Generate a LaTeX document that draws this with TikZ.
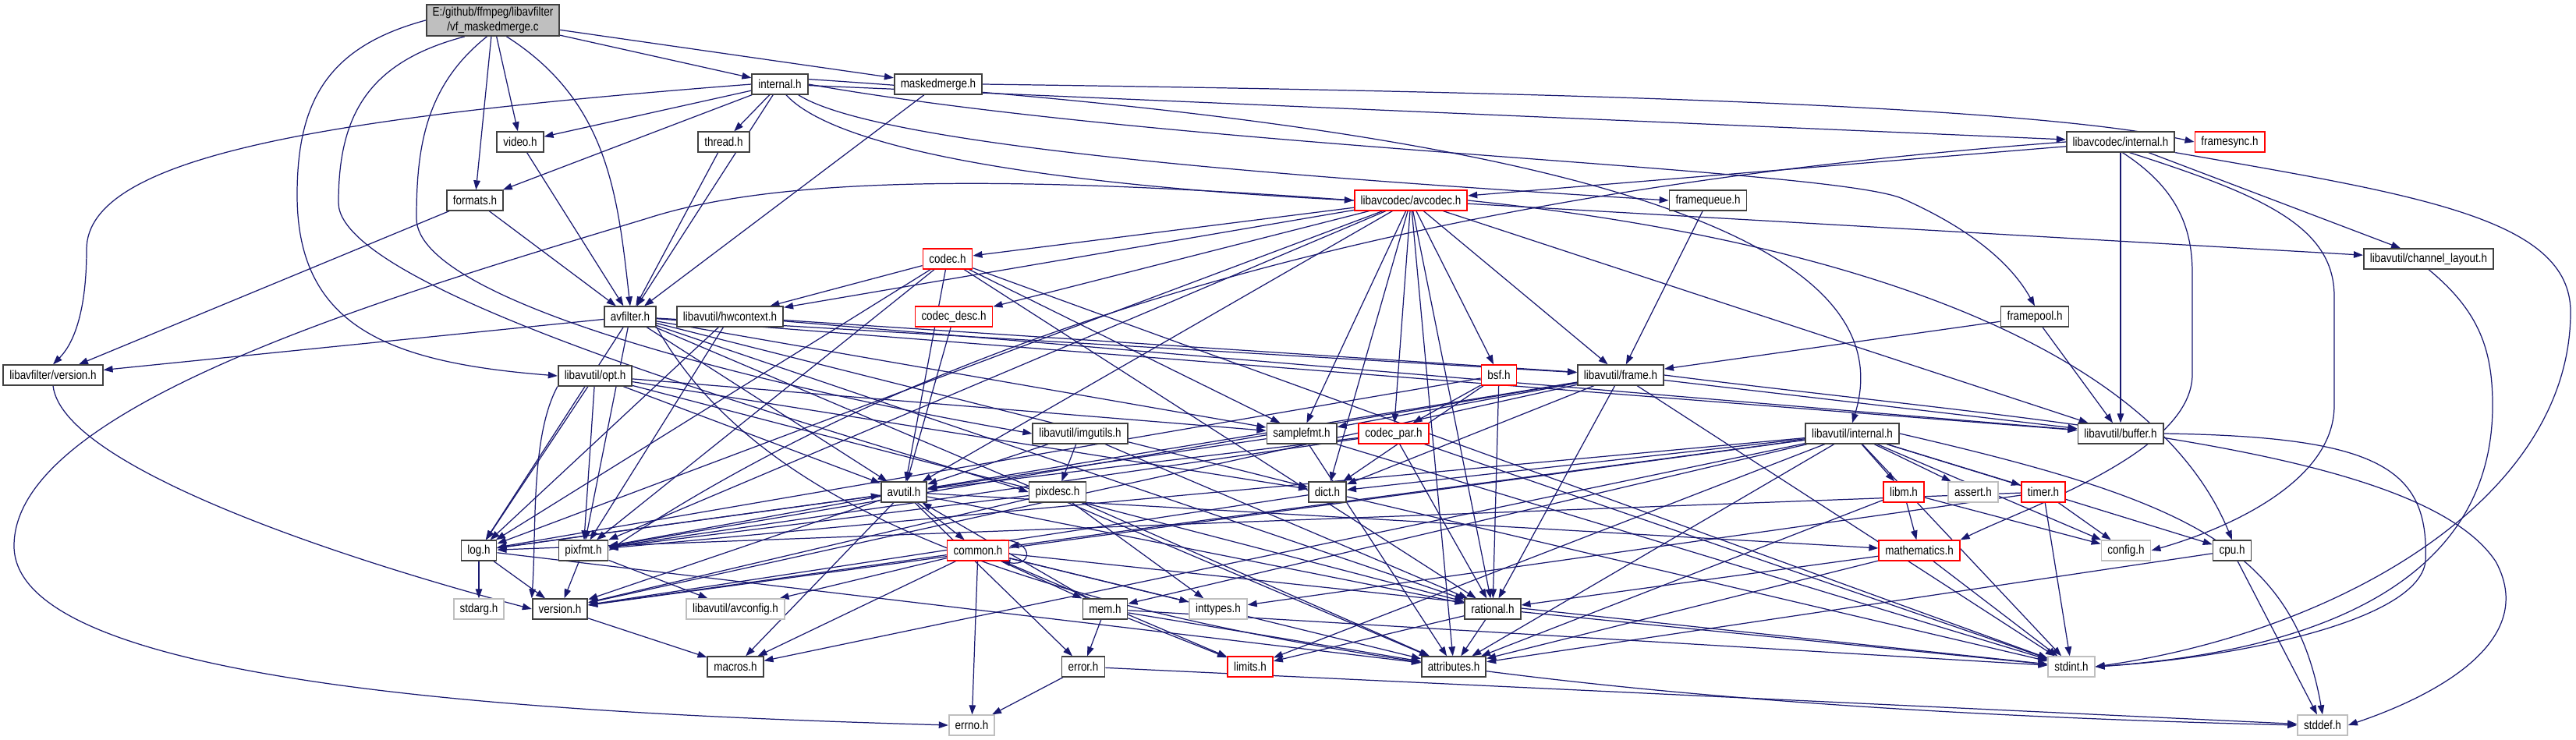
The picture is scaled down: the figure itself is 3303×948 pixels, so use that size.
\documentclass[tikz,border=0pt]{standalone}
\usepackage{fontspec}
\setmainfont{Liberation Sans}[FakeStretch=0.85]
\usetikzlibrary{arrows.meta, backgrounds}
\definecolor{EdgeBlue}{HTML}{191970}
\definecolor{BoxLine}{HTML}{404040}
\definecolor{NoDoc}{HTML}{BFBFBF}
\definecolor{Cut}{HTML}{FF0000}
\definecolor{MainFill}{HTML}{BFBFBF}

\begin{document}
\begin{tikzpicture}[
    x=0.01cm, y=-0.01cm,
    hfile/.style={draw=BoxLine, line width=0.5pt, fill=white, minimum height=0.255cm, inner xsep=0.08cm, inner ysep=0pt, font=\fontsize{4.5}{5}\selectfont},
    hred/.style={hfile, draw=Cut},
    hgray/.style={hfile, draw=NoDoc},
    hmain/.style={hfile, fill=MainFill, align=center, minimum height=0.4cm, font=\fontsize{4.5}{5.2}\selectfont},
    arr/.style={-{Triangle[length=0.12cm, width=0.085cm]}, EdgeBlue, line width=0.35pt}
]
\useasboundingbox (0,0) rectangle (3303,948);

% Source file
\node[hmain] (main) at (632,26) {E:/github/ffmpeg/libavfilter\\/vf\_maskedmerge.c};

% libavfilter headers
\node[hfile] (internal) at (1000,108) {internal.h};
\node[hfile] (maskedmerge) at (1203,108) {maskedmerge.h};
\node[hfile] (video) at (667,182) {video.h};
\node[hfile] (thread) at (928,182) {thread.h};
\node[hfile] (formats) at (609,257) {formats.h};
\node[hfile] (avfilter) at (808,406) {avfilter.h};
\node[hfile] (lavfversion) at (68,481) {libavfilter/version.h};
\node[hred] (framesync) at (2859,182) {framesync.h};
\node[hfile] (framequeue) at (2190,257) {framequeue.h};
\node[hfile] (framepool) at (2609,406) {framepool.h};

% libavcodec headers
\node[hfile] (lavcinternal) at (2719,182) {libavcodec/internal.h};
\node[hred] (avcodec) at (1809,257) {libavcodec/avcodec.h};
\node[hred] (codec) at (1215,332) {codec.h};
\node[hred] (codecdesc) at (1223,406) {codec\_desc.h};
\node[hred] (bsf) at (1922,481) {bsf.h};
\node[hred] (codecpar) at (1787,556) {codec\_par.h};

% libavutil headers
\node[hfile] (channellayout) at (3114,332) {libavutil/channel\_layout.h};
\node[hfile] (hwcontext) at (936,406) {libavutil/hwcontext.h};
\node[hfile] (opt) at (763,482) {libavutil/opt.h};
\node[hfile] (frame) at (2078,481) {libavutil/frame.h};
\node[hfile] (imgutils) at (1385,556) {libavutil/imgutils.h};
\node[hfile] (samplefmt) at (1669,556) {samplefmt.h};
\node[hfile] (lavuinternal) at (2375,556) {libavutil/internal.h};
\node[hfile] (buffer) at (2719,556) {libavutil/buffer.h};
\node[hfile] (avutil) at (1159,631) {avutil.h};
\node[hfile] (pixdesc) at (1356,631) {pixdesc.h};
\node[hfile] (dict) at (1702,631) {dict.h};
\node[hred] (libm) at (2441,631) {libm.h};
\node[hred] (timer) at (2620,631) {timer.h};
\node[hfile] (log) at (614,706) {log.h};
\node[hfile] (pixfmt) at (748,706) {pixfmt.h};
\node[hred] (common) at (1254,706) {common.h};
\node[hred] (mathematics) at (2461,706) {mathematics.h};
\node[hfile] (cpu) at (2862,706) {cpu.h};
\node[hfile] (version) at (718,781) {version.h};
\node[hgray] (avconfig) at (943,781) {libavutil/avconfig.h};
\node[hfile] (mem) at (1417,781) {mem.h};
\node[hfile] (rational) at (1914,781) {rational.h};
\node[hfile] (macros) at (943,855) {macros.h};
\node[hfile] (error) at (1389,855) {error.h};
\node[hred] (limits) at (1603,855) {limits.h};
\node[hfile] (attributes) at (1864,855) {attributes.h};

% system headers
\node[hgray] (assert) at (2530,631) {assert.h};
\node[hgray] (config) at (2726,706) {config.h};
\node[hgray] (stdarg) at (614,781) {stdarg.h};
\node[hgray] (inttypes) at (1562,781) {inttypes.h};
\node[hgray] (stdint) at (2656,855) {stdint.h};
\node[hgray] (errno) at (1246,930) {errno.h};
\node[hgray] (stddef) at (2978,930) {stddef.h};

\begin{scope}[on background layer]
% vf_maskedmerge.c
\draw[arr] (main.west) .. controls (420,60) and (381,130) .. (381,250) .. controls (381,420) and (500,465) .. (opt.west);
\draw[arr] (main.-150) .. controls (470,80) and (434,150) .. (434,260) .. controls (434,380) and (1100,560) .. (pixdesc.west);
\draw[arr] (main.-110) .. controls (545,110) and (534,190) .. (534,280) .. controls (534,390) and (1000,500) .. (imgutils.west);
\draw[arr] (main) -- (formats);
\draw[arr] (main) -- (video);
\draw[arr] (main.-50) .. controls (780,130) and (792,250) .. (avfilter.north);
\draw[arr] (main) -- (internal);
\draw[arr] (main) -- (maskedmerge);

% internal.h
\draw[arr] (internal.west) .. controls (420,150) and (111,200) .. (111,320) .. controls (111,420) and (85,450) .. (lavfversion.north);
\draw[arr] (internal) -- (video);
\draw[arr] (internal) -- (formats);
\draw[arr] (internal) -- (thread);
\draw[arr] (internal) -- (avfilter);
\draw[arr] (internal.-60) .. controls (1080,200) and (1400,240) .. (avcodec.west);
\draw[arr] (internal.-30) .. controls (1130,190) and (1700,230) .. (framequeue.west);
\draw[arr] (internal.east) .. controls (1500,190) and (2350,215) .. (2440,255) .. controls (2530,295) and (2580,340) .. (framepool.north);
\draw[arr] (internal) -- (lavcinternal);
\draw[arr] (internal.10) .. controls (2000,165) and (2450,300) .. (lavuinternal.north);

% maskedmerge.h
\draw[arr] (maskedmerge) -- (avfilter);
\draw[arr] (maskedmerge.east) .. controls (2000,118) and (2600,135) .. (framesync.west);

% video.h, thread.h, formats.h
\draw[arr] (video) -- (avfilter);
\draw[arr] (thread) -- (avfilter);
\draw[arr] (formats) -- (avfilter);
\draw[arr] (formats) -- (lavfversion);

% avfilter.h
\draw[arr] (avfilter) -- (lavfversion);
\draw[arr] (avfilter) -- (attributes);
\draw[arr] (avfilter) -- (avutil);
\draw[arr] (avfilter) -- (buffer);
\draw[arr] (avfilter) -- (dict);
\draw[arr] (avfilter) -- (frame);
\draw[arr] (avfilter) -- (log);
\draw[arr] (avfilter) -- (samplefmt);
\draw[arr] (avfilter) -- (pixfmt);
\draw[arr] (avfilter) -- (rational);
\draw[arr] (avfilter.south east) .. controls (1000,700) and (1500,895) .. (stddef.west);

% libavcodec/internal.h
\draw[arr] (lavcinternal) -- (avcodec);
\draw[arr] (lavcinternal.west) .. controls (2000,230) and (1300,360) .. (pixfmt.east);
\draw[arr] (lavcinternal) -- (buffer);
\draw[arr] (lavcinternal.-80) .. controls (2790,240) and (2811,290) .. (2811,350) -- (2811,480) .. controls (2811,580) and (2600,650) .. (mathematics.north east);
\draw[arr] (lavcinternal.-50) .. controls (2900,250) and (2993,290) .. (2993,380) -- (2993,520) .. controls (2993,620) and (2850,680) .. (config.east);
\draw[arr] (lavcinternal) -- (channellayout);
\draw[arr] (lavcinternal.south east) .. controls (3100,250) and (3296,280) .. (3296,400) .. controls (3296,640) and (3000,810) .. (stdint.east);

% libavcodec/avcodec.h
\draw[arr] (avcodec.west) .. controls (1300,225) and (1000,225) .. (830,280) .. controls (500,380) and (18,520) .. (18,700) .. controls (18,880) and (700,915) .. (errno.west);
\draw[arr] (avcodec) -- (samplefmt);
\draw[arr] (avcodec) -- (attributes);
\draw[arr] (avcodec) -- (avutil);
\draw[arr] (avcodec) -- (buffer);
\draw[arr] (avcodec.east) .. controls (2300,300) and (2750,420) .. (cpu.north);
\draw[arr] (avcodec) -- (channellayout);
\draw[arr] (avcodec) -- (dict);
\draw[arr] (avcodec) -- (frame);
\draw[arr] (avcodec) -- (hwcontext);
\draw[arr] (avcodec) -- (log);
\draw[arr] (avcodec) -- (pixfmt);
\draw[arr] (avcodec) -- (rational);
\draw[arr] (avcodec) -- (bsf);
\draw[arr] (avcodec) -- (codec);
\draw[arr] (avcodec) -- (codecdesc);
\draw[arr] (avcodec) -- (codecpar);

% framequeue.h, framepool.h
\draw[arr] (framequeue) -- (frame);
\draw[arr] (framepool) -- (buffer);
\draw[arr] (framepool) -- (frame);

% codec.h, codec_desc.h
\draw[arr] (codec) -- (stdint);
\draw[arr] (codec) -- (avutil);
\draw[arr] (codec) -- (hwcontext);
\draw[arr] (codec) -- (log);
\draw[arr] (codec) -- (pixfmt);
\draw[arr] (codec) -- (rational);
\draw[arr] (codec) -- (samplefmt);
\draw[arr] (codecdesc) -- (avutil);

% hwcontext.h
\draw[arr] (hwcontext) -- (buffer);
\draw[arr] (hwcontext) -- (frame);
\draw[arr] (hwcontext) -- (log);
\draw[arr] (hwcontext) -- (pixfmt);

% opt.h
\draw[arr] (opt) -- (rational);
\draw[arr] (opt) -- (avutil);
\draw[arr] (opt) -- (dict);
\draw[arr] (opt) -- (log);
\draw[arr] (opt) -- (pixfmt);
\draw[arr] (opt) -- (samplefmt);
\draw[arr] (opt.south west) .. controls (680,560) and (688,680) .. (version.north west);

% bsf.h, codec_par.h
\draw[arr] (bsf) -- (dict);
\draw[arr] (bsf) -- (log);
\draw[arr] (bsf) -- (rational);
\draw[arr] (bsf) -- (codecpar);
\draw[arr] (codecpar) -- (stdint);
\draw[arr] (codecpar) -- (avutil);
\draw[arr] (codecpar) -- (rational);
\draw[arr] (codecpar) -- (pixfmt);

% frame.h
\draw[arr] (frame.east) .. controls (2600,540) and (3100,570) .. (3200,720) .. controls (3260,830) and (3100,900) .. (stddef.east);
\draw[arr] (frame) -- (stdint);
\draw[arr] (frame) -- (avutil);
\draw[arr] (frame) -- (buffer);
\draw[arr] (frame) -- (dict);
\draw[arr] (frame) -- (rational);
\draw[arr] (frame) -- (samplefmt);
\draw[arr] (frame) -- (pixfmt);
\draw[arr] (frame) -- (version);

% imgutils.h, samplefmt.h
\draw[arr] (imgutils) -- (avutil);
\draw[arr] (imgutils) -- (pixdesc);
\draw[arr] (imgutils) -- (rational);
\draw[arr] (samplefmt) -- (stdint);
\draw[arr] (samplefmt) -- (avutil);
\draw[arr] (samplefmt) -- (attributes);

% libavutil/internal.h
\draw[arr] (lavuinternal) -- (limits);
\draw[arr] (lavuinternal) -- (stdint);
\draw[arr] (lavuinternal.east) .. controls (2800,640) and (2940,700) .. (stddef.north);
\draw[arr] (lavuinternal) -- (assert);
\draw[arr] (lavuinternal) -- (config);
\draw[arr] (lavuinternal) -- (attributes);
\draw[arr] (lavuinternal) -- (timer);
\draw[arr] (lavuinternal) -- (cpu);
\draw[arr] (lavuinternal) -- (dict);
\draw[arr] (lavuinternal) -- (macros);
\draw[arr] (lavuinternal) -- (mem);
\draw[arr] (lavuinternal) -- (pixfmt);
\draw[arr] (lavuinternal) -- (version);
\draw[arr] (lavuinternal) -- (common);
\draw[arr] (lavuinternal) -- (libm);

% libm.h, timer.h
\draw[arr] (libm) -- (config);
\draw[arr] (libm) -- (attributes);
\draw[arr] (libm) -- (mathematics);
\draw[arr] (timer) -- (config);
\draw[arr] (timer) -- (stdint);
\draw[arr] (timer) -- (inttypes);
\draw[arr] (timer) -- (log);

% avutil.h
\draw[arr] (avutil) -- (common);
\draw[arr] (avutil) -- (error);
\draw[arr] (avutil) -- (rational);
\draw[arr] (avutil) -- (version);
\draw[arr] (avutil) -- (macros);
\draw[arr] (avutil) -- (mathematics);
\draw[arr] (avutil) -- (log);
\draw[arr] (avutil) -- (pixfmt);

% pixdesc.h, dict.h
\draw[arr] (pixdesc) -- (inttypes);
\draw[arr] (pixdesc) -- (attributes);
\draw[arr] (pixdesc) -- (pixfmt);
\draw[arr] (pixdesc) -- (version);
\draw[arr] (dict) -- (stdint);
\draw[arr] (dict) -- (version);

% log.h, pixfmt.h
\draw[arr] (log) -- (stdarg);
\draw[arr] (log) -- (avutil);
\draw[arr] (log) -- (attributes);
\draw[arr] (log) -- (version);
\draw[arr] (pixfmt) -- (avconfig);
\draw[arr] (pixfmt) -- (version);

% common.h
\draw[arr] (common) -- (errno);
\draw[arr] (common) -- (inttypes);
\draw[arr] (common) -- (limits);
\draw[arr] (common) -- (stdint);
\draw[arr] (common) -- (attributes);
\draw[arr] (common) -- (macros);
\draw[arr] (common) -- (version);
\draw[arr] (common) -- (avconfig);
\draw[arr] (common) -- (mem);
\draw[arr] (common.25) to[out=0, in=-10, looseness=4] (common.-25);

% mathematics.h, mem.h, error.h
\draw[arr] (mathematics) -- (stdint);
\draw[arr] (mathematics) -- (attributes);
\draw[arr] (mathematics) -- (rational);
\draw[arr] (mem) -- (limits);
\draw[arr] (mem) -- (stdint);
\draw[arr] (mem) -- (attributes);
\draw[arr] (mem) -- (error);
\draw[arr] (mem) -- (avutil);
\draw[arr] (error) -- (errno);
\draw[arr] (error) -- (stddef);

% cpu.h, buffer.h, channel_layout.h
\draw[arr] (cpu) -- (stddef);
\draw[arr] (cpu) -- (attributes);
\draw[arr] (buffer.east) .. controls (3050,560) and (3115,600) .. (3110,720) .. controls (3100,800) and (2850,845) .. (stdint.east);
\draw[arr] (channellayout.south) .. controls (3180,400) and (3196,450) .. (3196,520) .. controls (3196,780) and (2900,840) .. (stdint.east);

% rational.h, version.h
\draw[arr] (rational) -- (stdint);
\draw[arr] (rational) -- (limits);
\draw[arr] (rational) -- (attributes);
\draw[arr] (version) -- (macros);
\draw[arr] (lavfversion.south) .. controls (80,600) and (450,720) .. (version.west);
\end{scope}

\end{tikzpicture}
\end{document}
